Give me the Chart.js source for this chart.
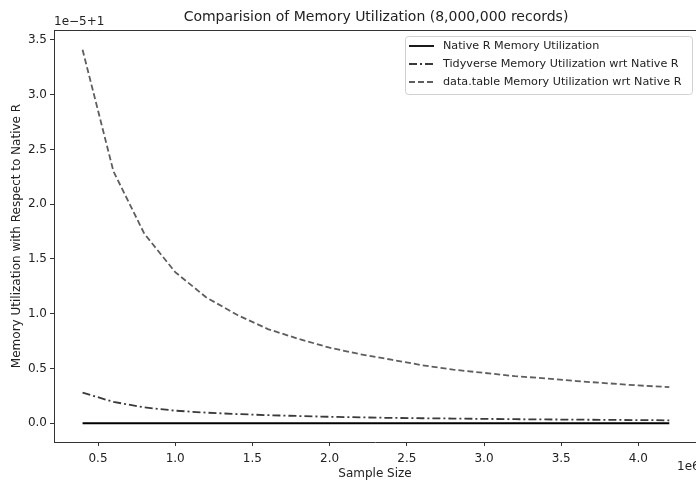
<!DOCTYPE html>
<html>
<head>
<meta charset="utf-8">
<script src="https://cdn.jsdelivr.net/npm/chart.js@4"></script>
<style>
  html, body { margin: 0; padding: 0; background: #fff; }
  #wrap { width: 696px; height: 481px; }
</style>
</head>
<body>
<div id="wrap"><canvas id="memChart" width="696" height="481"></canvas></div>
<script>
// sample sizes (records)
const sampleSizes = [400000, 600000, 800000, 1000000, 1200000, 1400000, 1600000, 1800000, 2000000, 2200000,
  2400000, 2600000, 2800000, 3000000, 3200000, 3400000, 3600000, 3800000, 4000000, 4200000];

// memory ratio minus 1, in units of 1e-5
const nativeR = [0, 0, 0, 0, 0, 0, 0, 0, 0, 0, 0, 0, 0, 0, 0, 0, 0, 0, 0, 0];
const tidyverse = [0.28, 0.195, 0.145, 0.115, 0.097, 0.084, 0.074, 0.066, 0.059, 0.054,
  0.049, 0.046, 0.043, 0.040, 0.037, 0.035, 0.033, 0.031, 0.029, 0.027];
const dataTable = [3.41, 2.30, 1.73, 1.38, 1.15, 0.99, 0.86, 0.77, 0.69, 0.63,
  0.58, 0.53, 0.49, 0.46, 0.43, 0.41, 0.385, 0.365, 0.345, 0.33];

const xTicks = [0.5, 1.0, 1.5, 2.0, 2.5, 3.0, 3.5, 4.0];
const yTicks = [0.0, 0.5, 1.0, 1.5, 2.0, 2.5, 3.0, 3.5];

const labels = ["Native R Memory Utilization", "Tidyverse Memory Utilization wrt Native R", "data.table Memory Utilization wrt Native R"];
const lineColors = ["#000000", "#3a3a3a", "#5e5e5e"];
const dashes = [[], [8, 3, 2, 3], [6, 3]];

const FONT = "'DejaVu Sans', sans-serif";

const toPoints = (ys) => ys.map((y, i) => ({ x: sampleSizes[i], y: y }));

const extras = {
  id: "extras",
  afterDraw(chart) {
    const c = chart.ctx;
    const a = chart.chartArea;
    c.save();
    // top spine
    c.strokeStyle = "#333";
    c.lineWidth = 1;
    c.beginPath();
    c.moveTo(a.left, a.top + 0.5);
    c.lineTo(a.right, a.top + 0.5);
    c.stroke();

    c.fillStyle = "#222";
    c.font = "14px " + FONT;
    c.textAlign = "center";
    c.textBaseline = "middle";
    c.fillText("Comparision of Memory Utilization (8,000,000 records)", 376, 17);

    c.font = "12px " + FONT;
    c.textAlign = "left";
    c.fillText("1e\u22125+1", 54, 22);
    c.fillText("1e6", 677, 467);

    // legend
    const bx = 405, by = 36, bw = 287, bh = 58;
    c.fillStyle = "rgba(255,255,255,0.85)";
    c.strokeStyle = "#d0d0d0";
    c.beginPath();
    c.roundRect(bx + 0.5, by + 0.5, bw, bh, 3);
    c.fill();
    c.stroke();
    c.font = "11.2px " + FONT;
    chart.data.datasets.forEach((ds, i) => {
      const ry = 46 + i * 18;
      c.strokeStyle = ds.borderColor;
      c.lineWidth = 1.8;
      c.setLineDash(ds.borderDash || []);
      c.beginPath();
      c.moveTo(409, ry);
      c.lineTo(434, ry);
      c.stroke();
      c.setLineDash([]);
      c.fillStyle = "#222";
      c.fillText(ds.label, 443, ry);
    });
    c.restore();
  }
};

const ctx = document.getElementById("memChart").getContext("2d");

new Chart(ctx, {
  type: "line",
  data: {
    datasets: [nativeR, tidyverse, dataTable].map((ys, i) => ({
      label: labels[i],
      data: toPoints(ys),
      borderColor: lineColors[i],
      borderDash: dashes[i],
      borderWidth: 1.8,
      pointRadius: 0,
      tension: 0,
      fill: false
    }))
  },
  options: {
    responsive: false,
    animation: false,
    layout: { padding: { top: 30, right: 0, left: 0, bottom: 0 } },
    plugins: {
      legend: { display: false },
      title: { display: false },
      tooltip: { enabled: false }
    },
    scales: {
      x: {
        type: "linear",
        min: 215000,
        max: 4373000,
        afterBuildTicks: (s) => { s.ticks = xTicks.map(v => ({ value: v * 1e6 })); },
        afterFit: (s) => { s.height = 39; },
        ticks: {
          color: "#222",
          font: { family: FONT, size: 12 },
          padding: 6,
          maxRotation: 0,
          callback: (v) => (v / 1e6).toFixed(1)
        },
        grid: { drawOnChartArea: false, drawTicks: true, tickLength: 4, color: "#333" },
        border: { display: true, color: "#333", width: 1 },
        title: {
          display: true,
          text: "Sample Size",
          color: "#222",
          font: { family: FONT, size: 12 },
          padding: { top: 0, bottom: 0 }
        }
      },
      y: {
        type: "linear",
        min: -0.171,
        max: 3.59,
        afterBuildTicks: (s) => { s.ticks = yTicks.map(v => ({ value: v })); },
        afterFit: (s) => { s.width = 54; },
        ticks: {
          color: "#222",
          font: { family: FONT, size: 12 },
          padding: 3,
          callback: (v) => v.toFixed(1)
        },
        grid: { drawOnChartArea: false, drawTicks: true, tickLength: 4, color: "#333" },
        border: { display: true, color: "#333", width: 1 },
        title: {
          display: true,
          text: "Memory Utilization with Respect to Native R",
          color: "#222",
          font: { family: FONT, size: 12 },
          padding: { top: 10, bottom: 0 }
        }
      }
    }
  },
  plugins: [extras]
});
</script>
</body>
</html>
